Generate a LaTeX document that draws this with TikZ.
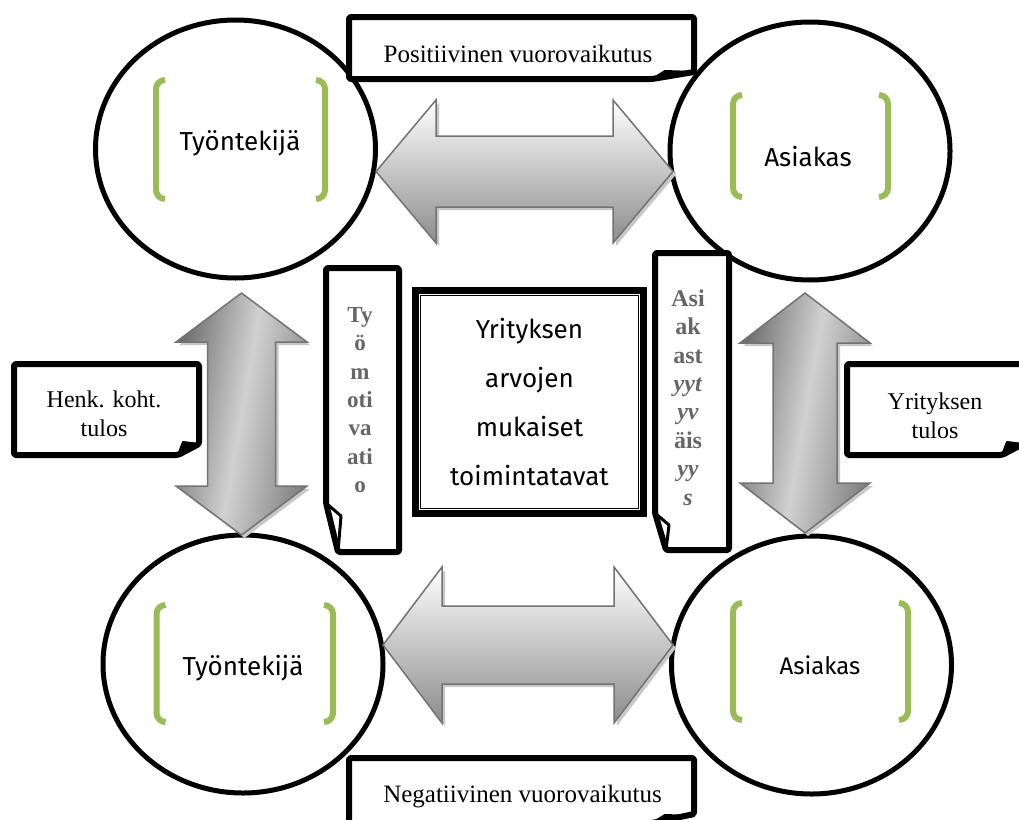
\documentclass[tikz,border=0pt]{standalone}
\usepackage{fontspec}
\setmainfont{Liberation Serif}
\newfontfamily\handfont{Fira Sans}
\usetikzlibrary{shapes.geometric,calc}

\definecolor{leafgreen}{HTML}{9BBB59}

\tikzset{
  ring/.style={ellipse,draw=black,line width=5pt,fill=white,inner sep=0pt,
    minimum width=280pt,minimum height=258pt},
  hand/.style={font=\handfont\fontsize{26}{30}\selectfont},
  bracket/.style={draw=leafgreen,line width=6pt,rounded corners=9pt},
  notebox/.style={draw=black,line width=6pt,fill=white,line join=round,rounded corners=1.5pt},
  fold/.style={fill=black,draw=black,line width=2pt,line join=round},
  notetext/.style={align=center,font=\fontsize{24}{29}\selectfont},
  sidetext/.style={align=center,text=black!60,font=\bfseries\fontsize{23}{28.4}\selectfont},
  harrow/.style={draw=black!55,line width=1.5pt,top color=white,bottom color=black!45},
  varrow/.style={draw=black!55,line width=1.5pt,left color=black!58,right color=black!50,
    middle color=black!18,shading angle=80},
  arrowshadow/.style={fill=black!22}
}

% block arrows: tip, tip, centre line, half head, half shaft, head length
\newcommand{\harrowpath}[6]{(#1,#3) -- (#1+#6,#3-#4) -- (#1+#6,#3-#5) -- (#2-#6,#3-#5)
  -- (#2-#6,#3-#4) -- (#2,#3) -- (#2-#6,#3+#4) -- (#2-#6,#3+#5) -- (#1+#6,#3+#5)
  -- (#1+#6,#3+#4) -- cycle}
\newcommand{\varrowpath}[6]{(#3,#1) -- (#3+#4,#1+#6) -- (#3+#5,#1+#6) -- (#3+#5,#2-#6)
  -- (#3+#4,#2-#6) -- (#3,#2) -- (#3-#4,#2-#6) -- (#3-#5,#2-#6) -- (#3-#5,#1+#6)
  -- (#3-#4,#1+#6) -- cycle}

\begin{document}
\begin{tikzpicture}[x=1pt,y=-1pt]
\useasboundingbox (0,0) rectangle (1019,819);
\clip (0,0) rectangle (1019,819);
\fill[white] (0,0) rectangle (1019,819);

% the four parties
\node[ring] (emp1) at (235.5,149) {};
\node[ring] (cust1) at (810,151) {};
\node[ring] (emp2) at (243,664) {};
\node[ring] (cust2) at (811.5,665) {};
\foreach \l/\r/\t/\b in {156/325/80/199, 733/888/95/197, 156.5/333/605/722, 733/908/603/720}{
  \draw[bracket] (\l+9,\t) -- (\l,\t) -- (\l,\b) -- (\l+9,\b);
  \draw[bracket] (\r-9,\t) -- (\r,\t) -- (\r,\b) -- (\r-9,\b);
}
\node[hand] (emp1txt) at (240,143) {Työntekijä};
\node[hand] (cust1txt) at (808,157) {Asiakas};
\node[hand] (emp2txt) at (243,668) {Työntekijä};
\node[hand,font=\handfont\fontsize{24}{28}\selectfont] (cust2txt) at (820,665) {Asiakas};

% two-way arrows
\fill[arrowshadow,shift={(3,3)}] \harrowpath{376}{673}{171.5}{71.5}{35.5}{60};
\draw[harrow] \harrowpath{376}{673}{171.5}{71.5}{35.5}{60};
\fill[arrowshadow,shift={(3,3)}] \harrowpath{383}{673}{645}{78}{39}{59};
\draw[harrow] \harrowpath{383}{673}{645}{78}{39}{59};
\fill[arrowshadow,shift={(3,3)}] \varrowpath{293}{535}{241.5}{65.5}{34}{49};
\draw[varrow] \varrowpath{293}{535}{241.5}{65.5}{34}{49};
\fill[arrowshadow,shift={(3,3)}] \varrowpath{293}{533}{805}{65}{32}{50};
\draw[varrow] \varrowpath{293}{533}{805}{65}{32}{50};

% folded notes
\draw[notebox] (349,17) -- (694,17) -- (694,72) -- (652,79) -- (349,79) -- cycle;
\fill[fold] (652,79) -- (665,71) -- (694,72) -- cycle;
\node[notetext,font=\fontsize{25}{29}\selectfont,anchor=base] (posit) at (518,62.5) {Positiivinen vuorovaikutus};

\draw[notebox] (349,758) -- (694,758) -- (694,814) -- (652,823) -- (349,823) -- cycle;
\fill[fold] (652,823) -- (665,815) -- (694,816) -- cycle;
\node[notetext,font=\fontsize{25}{29}\selectfont,anchor=base] (negat) at (522.5,802.5) {Negatiivinen vuorovaikutus};

\draw[notebox] (14,364) -- (199,364) -- (199,444) -- (178,455) -- (14,455) -- cycle;
\fill[fold] (178,455) -- (183,442) -- (199,444) -- cycle;
\node[notetext] (henk) at (104,414) {Henk. koht.\\tulos};

\draw[notebox] (847,364) -- (1023,364) -- (1023,444) -- (1002,455) -- (847,455) -- cycle;
\fill[fold] (1002,455) -- (1007,442) -- (1023,444) -- cycle;
\node[notetext] (yrit) at (935,416) {Yrityksen\\tulos};

\draw[notebox] (326,268) -- (399,268) -- (399,552) -- (338,552) -- (326,503) -- cycle;
\draw[line width=3pt,line join=round] (326,503) -- (341,516) -- (338,552);
\node[sidetext] (motiv) at (360,400) {Ty\\ö\\m\\oti\\va\\ati\\o};

\draw[notebox] (655,253) -- (729,253) -- (729,550) -- (666,550) -- (655,513) -- cycle;
\draw[line width=3pt,line join=round] (655,513) -- (669,525) -- (666,550);
\node[sidetext,font=\bfseries\fontsize{24}{28.4}\selectfont] (tyyt) at (688,397.5)
  {Asi\\ak\\ast\\\textit{yyt}\\\textit{yv}\\äis\\\textit{yy}\\\textit{s}};

% company values in the middle
\node[draw=black,line width=7pt,fill=white,minimum width=228pt,minimum height=223pt,
  align=center,font=\handfont\fontsize{26}{49}\selectfont] (values) at (529.5,402)
  {Yrityksen\\arvojen\\mukaiset\\toimintatavat};
\draw[line width=1.5pt] ($(values.north west)+(8.5,8.5)$) rectangle ($(values.south east)+(-8.5,-8.5)$);
\end{tikzpicture}
\end{document}
